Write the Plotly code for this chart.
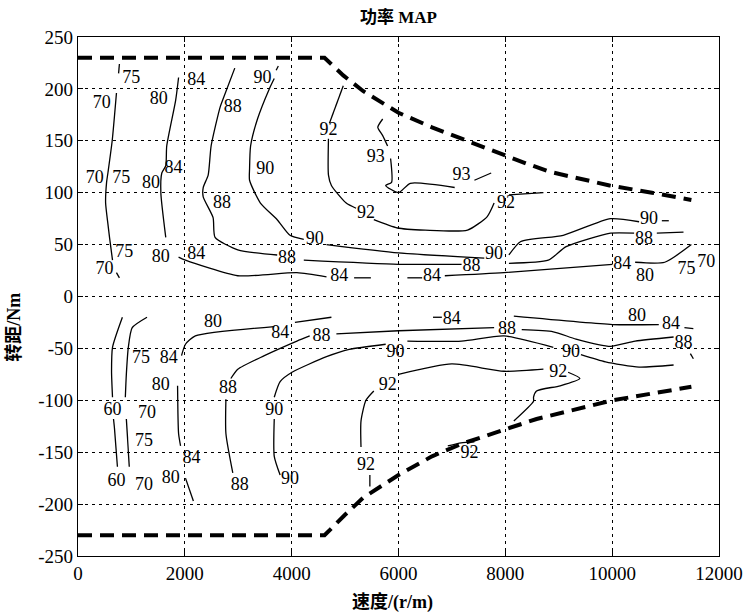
import plotly.graph_objects as go

# ---- axes ----
x_ticks = [0, 2000, 4000, 6000, 8000, 10000, 12000]
y_ticks = [250, 200, 150, 100, 50, 0, -50, -100, -150, -200, -250]
y_tick_text = ["250", "200", "150", "100", "50", "0", "-50", "-100", "-150", "-200", "-250"]

# ---- peak torque envelope (motoring / generating) ----
env_up_x = [0, 4615, 4966, 5335, 6000, 6627, 7181, 7975, 8400, 8842, 9950, 10744, 11483]
env_up_y = [230, 230, 213, 198, 177, 163, 152, 136, 128, 120, 107, 100, 93]
env_lo_x = [0, 4615, 4985, 5335, 6000, 6627, 7181, 7975, 8585, 10006, 11483]
env_lo_y = [-230, -230, -211, -194, -172, -154, -142, -129, -118, -100, -87]

# ---- efficiency contours, motoring side ----
m70_x = [775, 760, None, 720, 640, 560, 535, 517, 560, 590, 646, None, 720, 775]
m70_y = [224, 215, None, 196, 150, 119, 110, 90, 70, 57, 35, None, 23, 18]
m80_x = [1883, 1828, 1661, 1643, 1569, 1551, 1643]
m80_y = [211, 189, 145, 126, 119, 100, 57]
m84_x = [1883, 2012, 2991, 4098, 4652, None, 5169, 5483, None, 6166, 6443, None,
         6867, 7975, 10006, None, 10430, 10984, 11483]
m84_y = [38, 35, 20, 23, 19, None, 18, 18, None, 18, 18, None,
         20, 23, 31, None, 33, 33, 50]
m88_x = [2935, 2714, 2658, 2492, 2437, 2344, 2344, 2529, 2566, 2991, 3729, None,
         4227, 6000, 7181, None, 8067, 8805, 9138, 9968, 10411, None, 10836, 11335]
m88_y = [220, 190, 182, 145, 117, 105, 96, 76, 57, 45, 40, None,
         35, 31, 31, None, 32, 35, 48, 61, 61, None, 61, 62]
m90_x = [3710, 3750, None, 3674, 3581, 3360, 3231, 3212, 3212, 3415, 3729, 3969, 4227, None,
         4652, 6000, 7606, None, 8067, 8289, 9083, 9968, 10504, None, 10930, 11060]
m90_y = [218, 222, None, 210, 200, 171, 145, 123, 112, 90, 74, 59, 55, None,
         50, 42, 37, None, 40, 53, 59, 75, 72, None, 73, 73]
m92_x = [4966, 4707, None, 4689, 4689, 4744, 5021, 5206, None,
         5538, 5981, 6498, 7292, 7661, 7790, None, 8067, 8713]
m92_y = [203, 167, None, 152, 117, 107, 90, 85, None,
         74, 66, 64, 64, 77, 90, None, 98, 100]
m93_x = [5704, 5612, 5704, 5796, None, 5852, 5870, 5760, 6000, 6221, 7052, None, 7421, 7735]
m93_y = [171, 163, 155, 145, None, 133, 110, 107, 100, 109, 105, None, 112, 119]

# ---- efficiency contours, generating side ----
g60_x = [831, 646, 628, 646, None, 665, 683, 738]
g60_y = [-20, -49, -72, -97, None, -118, -127, -164]
g70_x = [1292, 1015, 942, 905, 886, None, 905, 960]
g70_y = [-20, -30, -49, -75, -97, None, -118, -164]
g80_x = [1864, 1883, 1920, None, 2012, 2160]
g80_y = [-86, -132, -144, None, -175, -197]
g84_x = [1938, 2012, 2197, 3674, None, 4061, 4744, None, 6646, 6812, None,
         8159, 10006, 10873, None, 11353, 11520]
g84_y = [-57, -46, -38, -29, None, -25, -20, None, -20, -20, None,
         -19, -27, -27, None, -30, -31]
g88_x = [2861, 2991, 3489, 4098, 4338, None, 4837, 6000, 7790, None,
         8307, 8898, 9323, 9968, 10430, 11150, None, 11464, 11520, None, 2769, 2769, 2898]
g88_y = [-79, -70, -57, -43, -38, None, -36, -33, -30, None,
         -32, -34, -41, -48, -43, -39, None, -55, -60, None, -99, -132, -170]
g90_x = [3674, 3784, 4006, 4652, 5077, 5760, None, 6166, 7181, 7975, 8898, None,
         9415, 9876, 10504, 11150, None, 3674, 3674, 3784]
g90_y = [-97, -82, -73, -58, -51, -46, None, -43, -43, -38, -49, None,
         -56, -63, -68, -66, None, -118, -154, -172]
g92_x = [5538, 5390, 5298, 5298, None, 5464, 5464, None, 6000, 6997, 7975, 8713, None,
         9175, 9396, 9027, 8584, 8528, 8528, 8159, None, 6923, 7172, 7421]
g92_y = [-91, -100, -120, -145, None, -172, -183, None, -75, -65, -72, -70, None,
         -73, -79, -86, -91, -97, -101, -120, None, -144, -141, -140]

# ---- contour labels ----
lab_x = [997, 443, 1514, 2215, 2898, 3452, 314, 812, 1366, 1790, 2695, 3507,
         4689, 5575, 5390, 7181, 8012, 4430, 7790, 10690, 3914, 7366, 10596,
         868, 1551, 498, 2215, 4892, 6627, 10190, 10615, 11390, 11759,
         2529, 3784, 6996, 10467, 11100, 4560, 8030, 11335, 5944, 9230, 5797, 8990,
         1181, 1698, 1551, 2806, 3674, 646, 1292, 1237, 2123, 720, 1237, 1735,
         3027, 3969, 5390, 7329]
lab_y = [210, 186, 190, 208, 182, 210, 114, 114, 109, 123, 90, 122,
         160, 134, 80, 117, 90, 55, 40, 74, 37, 29, 55,
         42, 38, 26, 40, 19, 19, 31, 19, 26, 33,
         -25, -36, -22, -19, -27, -39, -32, -45, -54, -54, -86, -73,
         -60, -60, -86, -89, -110, -110, -113, -140, -156, -178, -182, -175,
         -182, -176, -163, -151]
lab_text = ["75", "70", "80", "84", "88", "90", "70", "75", "80", "84", "88", "90",
            "92", "93", "92", "93", "92", "90", "90", "90", "88", "88", "88",
            "75", "80", "70", "84", "84", "84", "84", "80", "75", "70",
            "80", "84", "84", "80", "84", "88", "88", "88", "90", "90", "92", "92",
            "75", "84", "80", "88", "90", "60", "70", "75", "84", "60", "70", "80",
            "88", "90", "92", "92"]

SERIF = "Liberation Serif, Noto Sans CJK SC"
fig = go.Figure()

for xs, ys in [(m70_x, m70_y), (m80_x, m80_y), (m84_x, m84_y), (m88_x, m88_y),
               (m90_x, m90_y), (m92_x, m92_y), (m93_x, m93_y),
               (g60_x, g60_y), (g70_x, g70_y), (g80_x, g80_y), (g84_x, g84_y),
               (g88_x, g88_y), (g90_x, g90_y), (g92_x, g92_y)]:
    fig.add_trace(go.Scatter(x=xs, y=ys, mode="lines", connectgaps=False,
                             line=dict(color="black", width=1.3, shape="spline", smoothing=0.6),
                             hoverinfo="skip", showlegend=False))

for xs, ys in [(env_up_x, env_up_y), (env_lo_x, env_lo_y)]:
    fig.add_trace(go.Scatter(x=xs, y=ys, mode="lines",
                             line=dict(color="black", width=4, dash="14px,8px"),
                             hoverinfo="skip", showlegend=False))

fig.add_trace(go.Scatter(x=lab_x, y=lab_y, text=lab_text, mode="text",
                         textposition="middle center",
                         textfont=dict(family="Liberation Serif", size=18, color="black"),
                         hoverinfo="skip", showlegend=False))

axis_common = dict(showline=True, linecolor="black", linewidth=1.2, mirror="ticks",
                   ticks="inside", ticklen=5, tickcolor="black",
                   showgrid=True, gridcolor="black", gridwidth=1, griddash="3px,4px",
                   zeroline=False,
                   tickfont=dict(family="Liberation Serif", size=19, color="black"))

fig.update_layout(
    width=755, height=616,
    margin=dict(l=78, r=27, t=37, b=60),
    paper_bgcolor="white", plot_bgcolor="white",
    xaxis=dict(range=[0, 12000], tickvals=x_ticks, ticktext=[str(v) for v in x_ticks],
               **axis_common),
    yaxis=dict(range=[-250, 250], tickvals=y_ticks, ticktext=y_tick_text, **axis_common),
)

# chart title and axis captions
fig.add_annotation(text="<b>功率 MAP</b>", xref="paper", yref="paper", x=0.5, y=1.0,
                   yshift=20, showarrow=False, yanchor="middle",
                   font=dict(family=SERIF, size=17, color="black"))
fig.add_annotation(text="<b>速度/(r/m)</b>", xref="paper", yref="paper", x=0.49, y=0.0,
                   yshift=-46, showarrow=False, yanchor="middle",
                   font=dict(family=SERIF, size=18, color="black"))
fig.add_annotation(text="<b>转距/Nm</b>", xref="paper", yref="paper", x=0.0, y=0.44,
                   xshift=-64, showarrow=False, textangle=-90, xanchor="center",
                   font=dict(family=SERIF, size=18, color="black"))

fig.write_html("out.html")
